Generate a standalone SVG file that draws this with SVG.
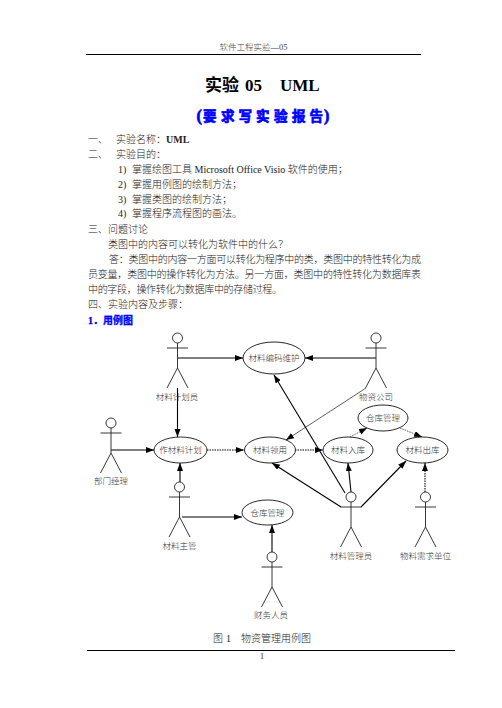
<svg xmlns="http://www.w3.org/2000/svg" width="502" height="708" viewBox="0 0 502 708">
<defs>
<marker id="arr" markerUnits="userSpaceOnUse" markerWidth="9" markerHeight="7" refX="8" refY="3" orient="auto"><path d="M0 0L8 3L0 6Z" fill="#000"/></marker>
<g id="stick"><circle cx="0" cy="0" r="5" class="fig"/><path d="M-10.5 10H10.5M0 5V30M-10.5 50L0 30L10.5 50" class="fig"/></g>
</defs>
<style>
text{font-family:"Liberation Serif","Noto Sans CJK SC",serif;fill:#222;font-size:10px;font-weight:300}
.lbl{font-size:8.5px;text-anchor:middle;fill:#333;font-family:"Noto Sans CJK SC",sans-serif;font-weight:300}
.fig{fill:#fff;stroke:#222;stroke-width:.9}
.uc{fill:#fff;stroke:#111;stroke-width:.9}
.c{fill:none;stroke:#000;stroke-width:1.1;marker-end:url(#arr)}
.d{stroke-dasharray:1.5 1}
.t{stroke:#333;stroke-width:.8}
.rule{stroke:#000;stroke-width:1}
.blue{fill:#00f;font-weight:bold;stroke:#00f;stroke-width:.3}
.title{font-size:17px;font-weight:bold;fill:#000}
</style>
<rect width="502" height="708" fill="#fff"/>
<g id="page-text">
<text x="253.500" y="50" text-anchor="middle" style="font-size:8.500px;fill:#444">软件工程实验—05</text>
<line class="rule" x1="86" y1="54.500" x2="421" y2="54.500"/>
<text x="205" y="91" class="title">实验</text><text x="245" y="91" class="title">05</text><text x="280" y="91" class="title">UML</text>
<text y="121" class="blue" style="font-size:13.500px;stroke-width:.7"><tspan x="196.500" style="font-size:16px">(</tspan><tspan x="203 221 238.500 256 274 292 309.500">要求写实验报告</tspan><tspan x="324" style="font-size:16px">)</tspan></text>
<text x="88" y="143">一、</text><text x="116" y="143">实验名称&#xFF1A;<tspan font-weight="bold">UML</tspan></text>
<text x="88" y="158">二、</text><text x="116" y="158">实验目的&#xFF1A;</text>
<text x="118" y="173">1)</text><text x="132" y="173">掌握绘图工具 Microsoft Office Visio 软件的使用&#xFF1B;</text>
<text x="118" y="188">2)</text><text x="132" y="188">掌握用例图的绘制方法&#xFF1B;</text>
<text x="118" y="203">3)</text><text x="132" y="203">掌握类图的绘制方法&#xFF1B;</text>
<text x="118" y="217">4)</text><text x="132" y="217">掌握程序流程图的画法。</text>
<text x="88" y="233">三、问题讨论</text>
<text x="108" y="248">类图中的内容可以转化为软件中的什么&#xFF1F;</text>
<text x="109" y="263" textLength="312">答&#xFF1A;类图中的内容一方面可以转化为程序中的类&#xFF0C;类图中的特性转化为成</text>
<text x="88" y="278" textLength="333">员变量&#xFF0C;类图中的操作转化为方法。另一方面&#xFF0C;类图中的特性转化为数据库表</text>
<text x="88" y="293" textLength="194">中的字段&#xFF0C;操作转化为数据库中的存储过程。</text>
<text x="88" y="308">四、实验内容及步骤&#xFF1A;</text>
<text x="88" y="324" class="blue">1&#xFF0E;用例图</text>
<text x="213" y="642">图</text><text x="226" y="642">1</text><text x="241" y="642">物资管理用例图</text>
<line class="rule" x1="87" y1="650.500" x2="455" y2="650.500"/>
<text x="262" y="659" text-anchor="middle" style="font-size:8px">1</text>
</g>
<g id="connectors">
<path class="c" d="M178 358H243"/>
<path class="c" d="M376 358H305"/>
<path class="c" d="M177.500 388V437"/>
<path class="c" d="M111 450H154"/>
<path class="c" d="M180 482V463"/>
<path class="c d" d="M207 450H244"/>
<path class="c d" d="M295 450H323"/>
<path class="c t" d="M366 388L286 440"/>
<path class="c t d" d="M350 437L367 428"/>
<path class="c t d" d="M400 428L422 437"/>
<path class="c" d="M345 493L274 375"/>
<path class="c" d="M341 507L272 463"/>
<path class="c" d="M351 492L348 463"/>
<path class="c" d="M361 507L406 461"/>
<path class="c d" d="M425 492V463"/>
<path class="c" d="M182 517H242"/>
<path class="c" d="M272 552V525"/>
</g>
<g id="actor-planner"><use href="#stick" x="177.500" y="338"/><text class="lbl" x="177" y="400">材料计划员</text></g>
<g id="actor-supplier"><use href="#stick" x="376" y="338"/><text class="lbl" x="376" y="400">物资公司</text></g>
<g id="actor-manager"><use href="#stick" x="111" y="423"/><text class="lbl" x="111" y="484">部门经理</text></g>
<g id="actor-supervisor"><use href="#stick" x="179.500" y="487"/><text class="lbl" x="179.500" y="549">材料主管</text></g>
<g id="actor-finance"><use href="#stick" x="272" y="557"/><text class="lbl" x="271" y="618">财务人员</text></g>
<g id="actor-keeper"><use href="#stick" x="351" y="497"/><text class="lbl" x="351" y="559">材料管理员</text></g>
<g id="actor-demand"><use href="#stick" x="425.500" y="497"/><text class="lbl" x="425.500" y="559">物料需求单位</text></g>
<g id="uc-code"><ellipse class="uc" cx="274" cy="358" rx="31" ry="16"/><text class="lbl" x="274" y="361">材料编码维护</text></g>
<g id="uc-plan"><ellipse class="uc" cx="180.500" cy="450" rx="26.500" ry="13"/><text class="lbl" x="180.500" y="453">作材料计划</text></g>
<g id="uc-use"><ellipse class="uc" cx="270" cy="450" rx="25.500" ry="13"/><text class="lbl" x="270" y="453">材料领用</text></g>
<g id="uc-in"><ellipse class="uc" cx="348" cy="450" rx="25" ry="13"/><text class="lbl" x="348" y="453">材料入库</text></g>
<g id="uc-out"><ellipse class="uc" cx="422.500" cy="450" rx="25.500" ry="13"/><text class="lbl" x="422.500" y="453">材料出库</text></g>
<g id="uc-store1"><ellipse class="uc" cx="383" cy="418" rx="25" ry="13"/><text class="lbl" x="383" y="421">仓库管理</text></g>
<g id="uc-store2"><ellipse class="uc" cx="267.500" cy="512.500" rx="25.500" ry="12.500"/><text class="lbl" x="267.500" y="515.500">仓库管理</text></g>
</svg>
